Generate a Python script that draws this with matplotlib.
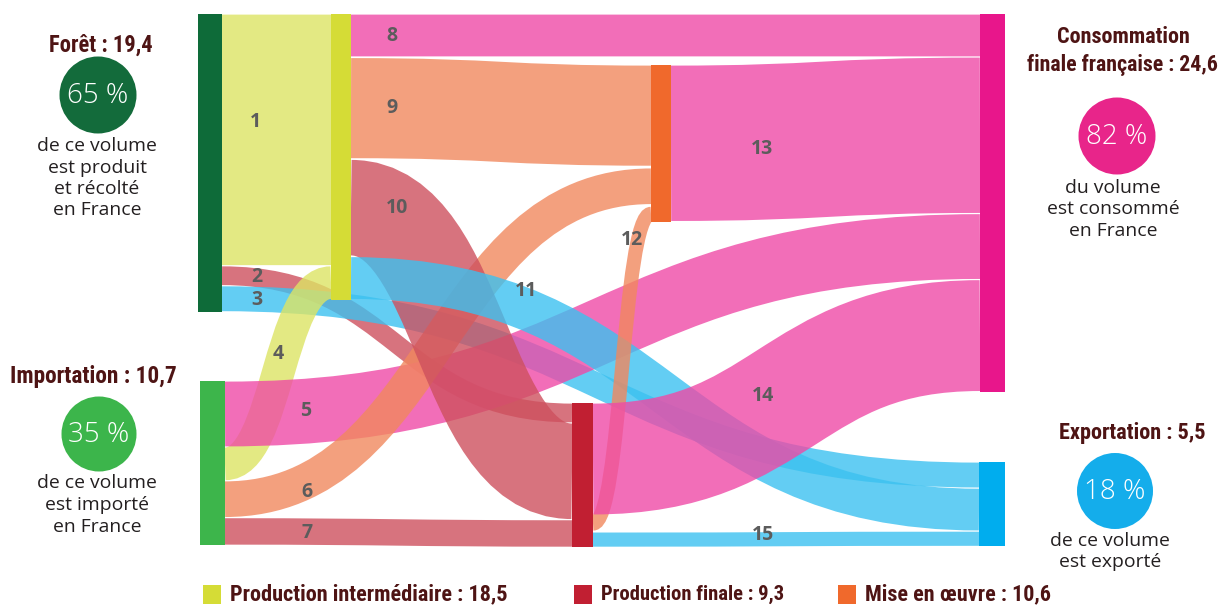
import matplotlib
matplotlib.use("Agg")
import matplotlib.pyplot as plt
from matplotlib.path import Path
from matplotlib.patches import PathPatch, Rectangle, Circle
from matplotlib import font_manager as fm

# ---------------- data ----------------
node_names = ["foret", "import", "pi", "mo", "pf", "conso", "export"]
node_totals = {"foret": 19.4, "import": 10.7, "pi": 18.5, "mo": 10.6,
               "pf": 9.3, "conso": 24.6, "export": 5.5}
flow_ids = [1, 2, 3, 4, 5, 6, 7, 8, 9, 10, 11, 12, 13, 14, 15]
flow_src = ["foret", "foret", "foret", "import", "import", "import", "import",
            "pi", "pi", "pi", "pi", "pf", "mo", "pf", "pf"]
flow_dst = ["pi", "pf", "export", "pi", "conso", "mo", "pf",
            "conso", "mo", "pf", "export", "mo", "conso", "conso", "export"]
flow_val = [16.4, 1.3, 1.7, 2.2, 4.3, 2.4, 1.8,
            2.8, 6.6, 6.3, 2.8, 1.0, 10.2, 7.3, 1.0]
flow_kind = ["yellow", "red", "blue", "yellow", "pink", "orange", "red",
             "pink", "orange", "red", "blue", "orange", "pink", "pink", "blue"]
pct_labels = ["65 %", "35 %", "82 %", "18 %"]

# ---------------- layout ----------------
S = 15.35  # px per unit
node_layout = {  # x-left, width, y-top (pixels)
    "foret": (198, 24, 14), "import": (200, 25, 381), "pi": (331, 20, 14),
    "mo": (651, 20, 65), "pf": (572, 21, 403), "conso": (980, 25, 14),
    "export": (979, 26, 462)}
out_order = {"foret": [1, 2, 3], "import": [5, 4, 6, 7], "pi": [8, 9, 10, 11],
             "mo": [13], "pf": [14, 12, 15]}
in_order = {"pi": [1, 4], "mo": [9, 6, 12], "pf": [2, 10, 7],
            "conso": [8, 13, 5, 14], "export": [3, 11, 15]}
node_colors = {"foret": "#0e6b39", "import": "#3db54b", "pi": "#d5dc36",
               "mo": "#f0692c", "pf": "#c11f32", "conso": "#e8168b",
               "export": "#00adee"}
flow_colors = {"yellow": "#dde464", "red": "#ce505e", "blue": "#3cc1f0",
               "pink": "#ef4aa6", "orange": "#f1885e"}
label_pos = {1: (255, 122), 2: (257, 277), 3: (257, 300), 4: (278, 354),
             5: (306, 411), 6: (307, 492), 7: (307, 533), 8: (392, 36),
             9: (392, 108), 10: (397, 208), 11: (526, 291), 12: (632, 240),
             13: (762, 149), 14: (763, 396), 15: (763, 535)}
SEP = 1.2  # px of white separation between adjacent flows

avail = {f.name for f in fm.fontManager.ttflist}
def pick(*names):
    for n in names:
        if n in avail:
            return n
    return "DejaVu Sans"
COND = pick("Roboto Condensed", "Liberation Sans Narrow", "Open Sans Condensed",
            "DejaVu Sans")
BODY = pick("Open Sans", "Noto Sans", "DejaVu Sans")
NUM = pick("Open Sans", "Inter", "DejaVu Sans")
TITLE_C = "#4e1414"

fig = plt.figure(figsize=(12.21, 6.07), dpi=100)
ax = fig.add_axes([0, 0, 1, 1])
ax.set_xlim(0, 1221)
ax.set_ylim(607, 0)
ax.axis("off")
PT = 72.0 / fig.dpi  # points per pixel

val = dict(zip(flow_ids, flow_val))
src = dict(zip(flow_ids, flow_src))
dst = dict(zip(flow_ids, flow_dst))
kind = dict(zip(flow_ids, flow_kind))

def node_h(n):
    tin = sum(val[f] for f in in_order.get(n, []))
    tout = sum(val[f] for f in out_order.get(n, []))
    return max(tin, tout) * S

def stack(order, n):
    x, w, top = node_layout[n]
    h = node_h(n)
    tot = sum(val[f] for f in order) * S
    gap = (h - tot) / (len(order) - 1) if len(order) > 1 else 0
    pos = {}
    y = top
    for f in order:
        pos[f] = (y, y + val[f] * S)
        y += val[f] * S + gap
    return pos

spos, dpos = {}, {}
for n, o in out_order.items():
    spos.update(stack(o, n))
for n, o in in_order.items():
    dpos.update(stack(o, n))

# flows drawn as constant-width strokes along a horizontal-tangent bezier
for f in flow_ids:
    sx = node_layout[src[f]][0] + node_layout[src[f]][1]
    dx = node_layout[dst[f]][0]
    sy = sum(spos[f]) / 2
    dy = sum(dpos[f]) / 2
    m = (sx + dx) / 2
    path = Path([(sx, sy), (m, sy), (m, dy), (dx, dy)],
                [Path.MOVETO, Path.CURVE4, Path.CURVE4, Path.CURVE4])
    ax.add_patch(PathPatch(path, facecolor="none",
                           edgecolor=flow_colors[kind[f]], alpha=0.8,
                           lw=(val[f] * S - SEP) * PT, capstyle="butt",
                           zorder=2))

for n in node_names:
    x, w, top = node_layout[n]
    ax.add_patch(Rectangle((x, top), w, node_h(n), facecolor=node_colors[n],
                           edgecolor="none", zorder=3))

for f in flow_ids:
    x, y = label_pos[f]
    ax.text(x, y, str(f), ha="center", va="center", fontsize=14,
            fontweight="bold", color="#5c5c5c", family=NUM, zorder=5)

renderer = fig.canvas.get_renderer()

def fit(t, target):
    w = t.get_window_extent(renderer=renderer).width
    t.set_fontsize(t.get_fontsize() * target / w)
    return t.get_fontsize()

def title(x, y, s, width, ha="center"):
    t = ax.text(x, y, s, ha=ha, va="center", fontsize=17, fontweight="bold",
                color=TITLE_C, family=COND, zorder=5)
    fit(t, width)

probe = ax.text(0, -100, "de ce volume", fontsize=12, family=BODY)
BODY_FS = fit(probe, 119)
probe.remove()

def body(x, ys, lines):
    for y, s in zip(ys, lines):
        ax.text(x, y, s, ha="center", va="center", fontsize=BODY_FS,
                color="#231f20", family=BODY, zorder=5)

def badge(x, y, r, c, s):
    ax.add_patch(Circle((x, y), r, facecolor=c, edgecolor="none", zorder=4))
    ax.text(x, y + 1, s, ha="center", va="center", fontsize=20,
            fontweight="light", color="white", family=BODY, zorder=5)

title(101, 45, "Forêt : 19,4", 104)
badge(98, 95, 38.5, "#136b3b", pct_labels[0])
body(97, [146, 168, 189, 210], ["de ce volume", "est produit", "et récolté", "en France"])

title(93, 376, "Importation : 10,7", 167)
badge(99, 434, 37.5, "#3cb54b", pct_labels[1])
body(97, [483, 505, 527], ["de ce volume", "est importé", "en France"])

title(1123, 37, "Consommation", 133)
title(1122, 65, "finale française : 24,6", 192)
badge(1117, 136, 38.5, "#e8258a", pct_labels[2])
body(1113, [188, 209, 231], ["du volume", "est consommé", "en France"])

title(1132, 433, "Exportation : 5,5", 147)
badge(1115, 491, 38, "#14adeb", pct_labels[3])
body(1110, [541, 562], ["de ce volume", "est exporté"])

# legend
legend_items = [("pi", "Production intermédiaire : 18,5", 203, 278),
                ("pf", "Production finale : 9,3", 574, 184),
                ("mo", "Mise en œuvre : 10,6", 838, 186)]
for n, s, x, w in legend_items:
    ax.add_patch(Rectangle((x, 585), 18, 19, facecolor=node_colors[n],
                           edgecolor="none", zorder=4))
    title(x + 27, 594, s, w, ha="left")

fig.savefig("out.png", dpi=100)
